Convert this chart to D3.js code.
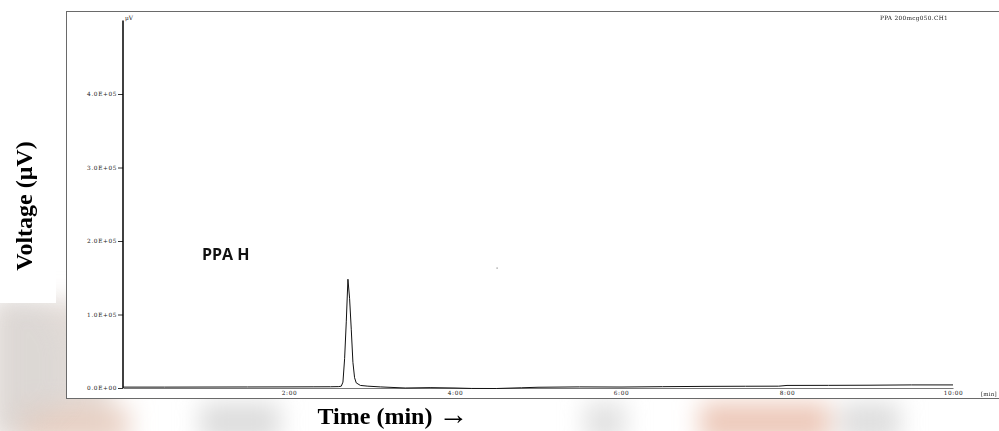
<!DOCTYPE html>
<html>
<head>
<meta charset="utf-8">
<script src="https://cdn.jsdelivr.net/npm/d3@7"></script>
<style>
  html, body { margin: 0; padding: 0; background: #fff; }
  svg { display: block; }
</style>
</head>
<body>
<svg id="chart" width="999" height="431"></svg>
<script>
// ---- data ----
const traceTime  = [0, 0.5, 1.0, 1.5, 2.0, 2.3, 2.5, 2.6, 2.63, 2.65, 2.67, 2.69, 2.71, 2.73, 2.75, 2.77, 2.79, 2.81, 2.86, 2.95, 3.1, 3.4, 3.7, 4.0, 4.2, 4.5, 4.8, 5.0, 5.5, 6.0, 6.5, 7.0, 7.5, 7.9, 8.0, 8.5, 9.0, 9.5, 10.0];
const traceValue = [1200, 1200, 1300, 1400, 1500, 1600, 1700, 1900, 2500, 8000, 40000, 90000, 148000, 122000, 80000, 35000, 14000, 7000, 3500, 2500, 1500, 0, 500, 0, -600, -700, 300, 1000, 1500, 1300, 1800, 2200, 2400, 2500, 3500, 3600, 3800, 4200, 4200];
const yTickValues = [0, 100000, 200000, 300000, 400000];
const yTickLabels = ["0.0E+00", "1.0E+05", "2.0E+05", "3.0E+05", "4.0E+05"];
const xTickValues = [2, 4, 6, 8, 10];
const xTickLabels = ["2:00", "4:00", "6:00", "8:00", "10:00"];
const peakLabel = "PPA H";
const fileLabel = "PPA 200mcg050.CH1";

const svg = d3.select("#chart");

// ---- faint background watermark ----
const defs = svg.append("defs");
defs.append("filter").attr("id", "blur").attr("x", "-50%").attr("y", "-50%").attr("width", "200%").attr("height", "200%")
  .append("feGaussianBlur").attr("stdDeviation", 12);
const wm = svg.append("g").attr("filter", "url(#blur)");
wm.append("rect").attr("x", -10).attr("y", 300).attr("width", 120).attr("height", 140).attr("fill", "#d8cfc8").attr("opacity", 0.7);
wm.append("rect").attr("x", 20).attr("y", 405).attr("width", 110).attr("height", 40).attr("fill", "#e9cdbf").attr("opacity", 0.8);
wm.append("rect").attr("x", 200).attr("y", 402).attr("width", 80).attr("height", 40).attr("fill", "#d4d4d4").attr("opacity", 0.8);
wm.append("rect").attr("x", 585).attr("y", 402).attr("width", 40).attr("height", 40).attr("fill", "#d9d9d9").attr("opacity", 0.8);
wm.append("rect").attr("x", 700).attr("y", 402).attr("width", 130).attr("height", 40).attr("fill", "#ebc3b3").attr("opacity", 0.9);
wm.append("rect").attr("x", 840).attr("y", 402).attr("width", 60).attr("height", 40).attr("fill", "#d6d6d6").attr("opacity", 0.8);
svg.append("path").attr("d", "M0,300 L40,300 L66,340 L66,400 L30,431 L0,431 Z")
  .attr("fill", "#cfcfcf").attr("opacity", 0.35).attr("filter", "url(#blur)");

// white card behind y-axis title
svg.append("rect").attr("x", 0).attr("y", 95).attr("width", 56).attr("height", 208).attr("fill", "#fff");

// ---- frame ----
svg.append("rect").attr("x", 66.5).attr("y", 11.5).attr("width", 940).attr("height", 387)
  .attr("fill", "#fff").attr("stroke", "#6a6a6a").attr("stroke-width", 1);

// ---- scales ----
const x = d3.scaleLinear().domain([0, 10]).range([123, 953]);
const y = d3.scaleLinear().domain([0, 500000]).range([388, 20.5]);

const tickFont = "'DejaVu Serif', 'Liberation Serif', serif";

// y axis
const yAxis = d3.axisLeft(y).tickValues(yTickValues)
  .tickFormat((d, i) => yTickLabels[i]).tickSize(5).tickSizeOuter(0);
const gy = svg.append("g").attr("transform", `translate(${x(0)},0)`).call(yAxis);
gy.select(".domain").remove();
gy.selectAll(".tick line").attr("stroke", "#333").attr("stroke-width", 1);
gy.selectAll(".tick text").attr("x", -6).attr("font-family", tickFont).attr("font-size", 5.8)
  .attr("letter-spacing", 0.6).attr("fill", "#222");
svg.append("line").attr("x1", x(0)).attr("x2", x(0)).attr("y1", y(500000)).attr("y2", y(0))
  .attr("stroke", "#000").attr("stroke-width", 1.5);
svg.append("text").attr("x", x(0) + 2).attr("y", y(500000) - 1).text("μV")
  .attr("font-family", tickFont).attr("font-size", 5.8).attr("fill", "#222");

// x axis
const xAxis = d3.axisBottom(x).tickValues(xTickValues)
  .tickFormat((d, i) => xTickLabels[i]).tickSize(0).tickPadding(3);
const gx = svg.append("g").attr("transform", `translate(0,${y(0)})`).call(xAxis);
gx.select(".domain").attr("stroke", "#777").attr("stroke-width", 1.2);
gx.selectAll(".tick text").attr("font-family", tickFont).attr("font-size", 5.8)
  .attr("letter-spacing", 0.6).attr("fill", "#222");
svg.append("text").attr("x", 981).attr("y", 396).text("[min]")
  .attr("font-family", tickFont).attr("font-size", 5.5).attr("letter-spacing", 0.2).attr("fill", "#222");

// ---- trace ----
const line = d3.line().x((d, i) => x(traceTime[i])).y((d) => y(d)).curve(d3.curveLinear);
svg.append("path").datum(traceValue).attr("d", line)
  .attr("fill", "none").attr("stroke", "#111").attr("stroke-width", 1);

// ---- labels ----
svg.append("text").attr("x", 880).attr("y", 20).text(fileLabel)
  .attr("font-family", tickFont).attr("font-size", 5.8).attr("letter-spacing", 0.3).attr("fill", "#222");
svg.append("text").attr("x", 202).attr("y", 260).text(peakLabel)
  .attr("font-family", "'Open Sans', 'Liberation Sans', sans-serif").attr("font-weight", "bold")
  .attr("font-size", 16).attr("fill", "#111");
svg.append("rect").attr("x", x(4.5)).attr("y", 267.5).attr("width", 1.2).attr("height", 1.2).attr("fill", "#888");

const titleFont = "'Liberation Serif', 'DejaVu Serif', serif";
const xt = svg.append("text").attr("x", 393).attr("y", 424).attr("text-anchor", "middle")
  .attr("font-family", titleFont).attr("font-weight", "bold").attr("font-size", 24).attr("fill", "#000");
xt.append("tspan").text("Time (min) ");
xt.append("tspan").text("→").attr("font-size", 30).attr("font-weight", "normal");
svg.append("text").attr("transform", "translate(32,206) rotate(-90)").attr("text-anchor", "middle")
  .text("Voltage (μV)")
  .attr("font-family", titleFont).attr("font-weight", "bold")
  .attr("font-size", 24).attr("fill", "#000");
</script>
</body>
</html>
